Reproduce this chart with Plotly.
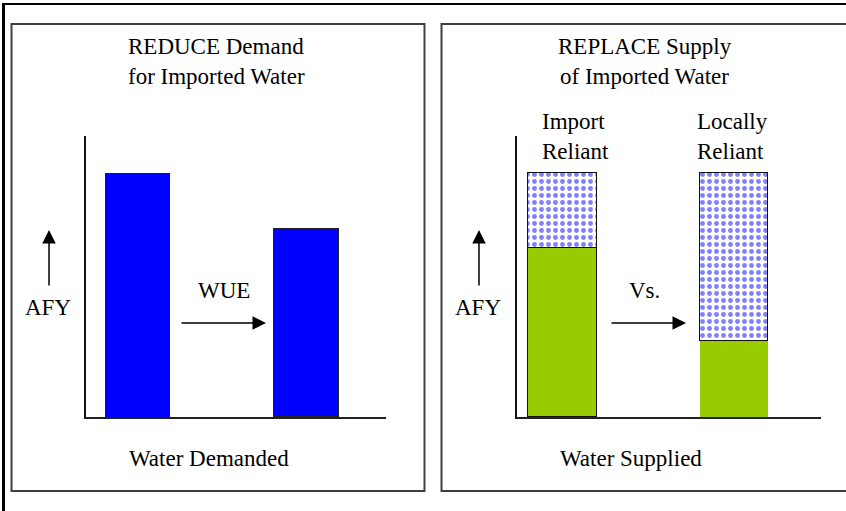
import plotly.graph_objects as go
from plotly.subplots import make_subplots

# ---- data ----
demand_categories = ["Current", "With WUE"]
demand_values = [87, 67]

supply_categories = ["Import<br>Reliant", "Locally<br>Reliant"]
imported_values = [60, 27]
local_values = [27, 60]

W, H = 846, 511
FONT = "Liberation Serif"
BLUE = "#0000FF"
GREEN = "#99CC00"


def px(x):
    return x / W


def py(y):
    return 1 - y / H


fig = make_subplots(rows=1, cols=2)

fig.add_trace(go.Bar(
    x=demand_categories, y=demand_values, width=0.385,
    marker=dict(color=BLUE, line=dict(color="#222222", width=[0, 1.5])),
    showlegend=False, hoverinfo="skip"), row=1, col=1)

fig.add_trace(go.Bar(
    x=supply_categories, y=imported_values, width=0.40,
    marker=dict(color=GREEN, line=dict(color="#111111", width=[1.5, 0])),
    showlegend=False, hoverinfo="skip"), row=1, col=2)

fig.add_trace(go.Bar(
    x=supply_categories, y=local_values, width=0.40,
    marker=dict(color="white", line=dict(color="#111111", width=[1.5, 1.5]),
                pattern=dict(shape=".", fgcolor=BLUE, bgcolor="white",
                             size=7, solidity=0.38)),
    showlegend=False, hoverinfo="skip"), row=1, col=2)

ydom = [py(417), py(136)]
common_x = dict(showticklabels=False, ticks="", showgrid=False, zeroline=False,
                showline=True, linecolor="#222222", linewidth=2, fixedrange=True)
common_y = dict(showticklabels=False, ticks="", showgrid=False, zeroline=False,
                showline=True, linecolor="#111111", linewidth=1.5,
                range=[0, 100], domain=ydom, fixedrange=True)

fig.update_xaxes(domain=[px(86), px(386)], range=[-0.305, 1.47], **common_x, row=1, col=1)
fig.update_xaxes(domain=[px(517), px(821)], range=[-0.265, 1.508], **common_x, row=1, col=2)
fig.update_yaxes(**common_y, row=1, col=1)
fig.update_yaxes(**common_y, row=1, col=2)

shapes = [
    # panel frames
    dict(type="rect", xref="paper", yref="paper", x0=px(11.5), x1=px(424.5),
         y0=py(491), y1=py(24), line=dict(color="#404040", width=2)),
    dict(type="rect", xref="paper", yref="paper", x0=px(441.5), x1=px(860),
         y0=py(491), y1=py(24), line=dict(color="#404040", width=2)),
    # outer frame
    dict(type="line", xref="paper", yref="paper", x0=px(3.5), x1=px(3.5),
         y0=py(3), y1=py(515), line=dict(color="black", width=3)),
    dict(type="line", xref="paper", yref="paper", x0=px(2), x1=px(850),
         y0=py(4), y1=py(4), line=dict(color="black", width=2)),
]


def text(t, x, y, xanchor="center", align="center"):
    return dict(text=t, x=px(x), y=py(y), xref="paper", yref="paper",
                xanchor=xanchor, yanchor="middle", showarrow=False, align=align,
                font=dict(family=FONT, size=23, color="black"))


def arrow(x_tip, y_tip, ax, ay):
    return dict(text="", x=px(x_tip), y=py(y_tip), xref="paper", yref="paper",
                ax=ax, ay=ay, showarrow=True, arrowhead=2, arrowsize=1.8,
                arrowwidth=1.5, arrowcolor="black", standoff=0)


annotations = [
    text("REDUCE Demand", 216, 46),
    text("for Imported Water", 217, 76),
    text("AFY", 47.5, 307),
    text("WUE", 224, 290),
    text("Water Demanded", 209, 458),
    text("REPLACE Supply", 645, 46),
    text("of Imported Water", 644, 76),
    text("AFY", 478, 307),
    text("Vs.", 644, 290),
    text("Water Supplied", 631, 458),
    text(supply_categories[0], 540, 137, xanchor="left", align="left"),
    text(supply_categories[1], 695, 137, xanchor="left", align="left"),
    arrow(49, 230, 0, 57),
    arrow(266, 323, -86, 0),
    arrow(479, 230, 0, 57),
    arrow(686, 323, -76, 0),
]

fig.update_layout(
    width=W, height=H, autosize=False,
    margin=dict(l=0, r=0, t=0, b=0),
    paper_bgcolor="white", plot_bgcolor="white",
    font=dict(family=FONT),
    barmode="stack", bargap=0,
    shapes=shapes, annotations=annotations,
    showlegend=False,
)

fig.write_html("out.html", config={"displayModeBar": False},
               post_script="document.body.style.margin='0px';document.body.style.overflow='hidden';")
